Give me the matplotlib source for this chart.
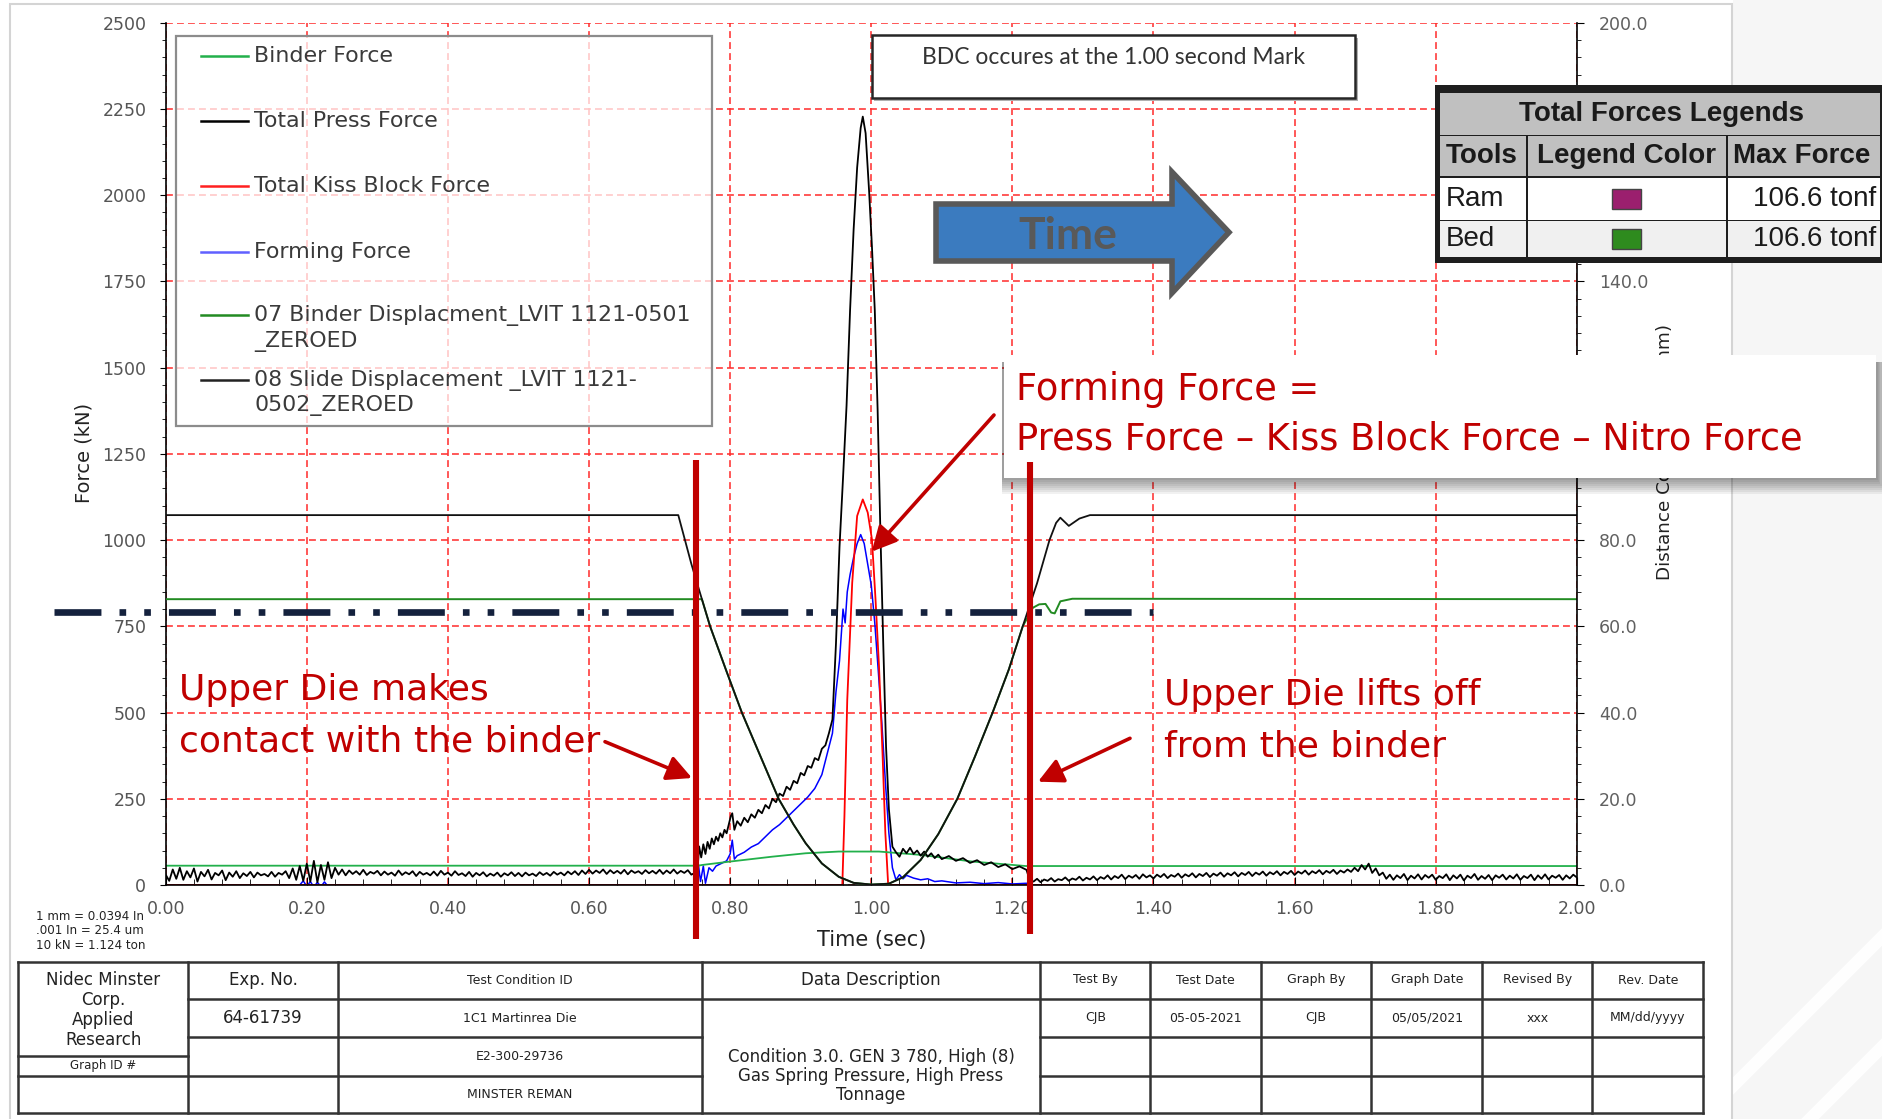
import numpy as np
import matplotlib
matplotlib.use('Agg')
import matplotlib.pyplot as plt
from matplotlib.patches import Rectangle, Polygon, FancyArrowPatch
from matplotlib.lines import Line2D
from matplotlib.ticker import MultipleLocator, FormatStrFormatter, FuncFormatter

plt.rcParams['font.family'] = 'DejaVu Sans'

# ---------------- data ----------------
# Total press force (kN), noisy baseline before contact, one value every 5 ms from 0.000 s
press_early = [30, 12, 45, 18, 50, 15, 40, 22, 48, 10, 38, 25, 44, 16, 35, 28, 42, 14, 36, 24,
               40, 20, 34, 26, 38, 22, 36, 28, 32, 25, 38, 24, 35, 30, 40, 20, 48, 15, 55, 12,
               62, 10, 70, 8, 58, 15, 66, 20, 50, 30, 45, 28, 42, 32, 40, 30, 44, 29, 38, 33,
               41, 28, 39, 30, 36, 27, 42, 29, 37, 31, 40, 26, 38, 30, 35, 28, 39, 27, 41, 30,
               36, 27, 40, 29, 34, 26, 38, 24, 35, 28, 37, 25, 33, 27, 36, 24, 34, 28, 37, 26,
               35, 25, 36, 28, 33, 26, 37, 29, 35, 27, 38, 30, 36, 28, 39, 31, 40, 29, 42, 32,
               44, 33, 42, 35, 45, 32, 43, 34, 41, 33, 44, 31, 42, 35, 40, 32, 43, 34, 41, 33,
               44, 32, 42, 34, 45, 33, 41, 35, 43, 30]
# forming stroke
press_mid_t = [0.750, 0.753, 0.756, 0.759, 0.762, 0.765, 0.768, 0.771, 0.774, 0.777,
               0.780, 0.783, 0.786, 0.789, 0.792, 0.795, 0.798, 0.801, 0.803, 0.806,
               0.810, 0.815, 0.820, 0.825, 0.830, 0.835, 0.840, 0.845, 0.850, 0.855,
               0.860, 0.865, 0.870, 0.875, 0.880, 0.885, 0.890, 0.895, 0.900, 0.905,
               0.910, 0.915, 0.920, 0.925, 0.930, 0.935, 0.940, 0.945,
               0.950, 0.955, 0.960, 0.965, 0.970, 0.975, 0.980, 0.985,
               0.988, 0.992, 0.997, 1.001, 1.005, 1.009, 1.013, 1.017, 1.021, 1.025,
               1.030, 1.035, 1.040, 1.045, 1.050, 1.055, 1.060, 1.065, 1.070, 1.075,
               1.080, 1.085, 1.090, 1.095, 1.100,
               1.110, 1.120, 1.130, 1.140, 1.150, 1.160, 1.170, 1.180, 1.190, 1.200,
               1.210, 1.220, 1.225]
press_mid = [35, 18, 112, 80, 118, 90, 125, 105, 135, 118,
             140, 128, 150, 138, 160, 150, 175, 200, 208, 160,
             185, 172, 195, 182, 205, 195, 218, 208, 232, 222,
             250, 240, 265, 258, 285, 276, 302, 295, 325, 318,
             345, 340, 368, 362, 395, 405, 440, 480,
             700, 980, 1180, 1390, 1667, 1900, 2080, 2195,
             2228, 2180, 2010, 1850, 1667, 1380, 1021, 700, 400, 220,
             111, 95, 82, 105, 92, 108, 90, 100, 85, 97,
             82, 92, 78, 88, 75,
             84, 70, 78, 64, 72, 58, 66, 52, 60, 46,
             54, 44, 12]
# after lift-off, one value every 5 ms from 1.230 s
press_late = [10, 18, 8, 16, 12, 20, 10, 17, 14, 22, 12, 19, 15, 24, 13, 21, 16, 25, 14, 23,
              18, 28, 16, 26, 20, 30, 17, 27, 21, 29, 18, 31, 22, 28, 19, 30, 23, 32, 20, 29,
              24, 33, 21, 31, 25, 34, 22, 32, 26, 35, 23, 33, 27, 36, 24, 34, 28, 37, 25, 35,
              29, 38, 26, 36, 30, 39, 27, 37, 31, 40, 28, 38, 32, 41, 29, 39, 33, 42, 30, 40,
              34, 43, 31, 41, 35, 44, 32, 42, 36, 45, 38, 50, 40, 58, 45, 62, 35, 48, 28, 36,
              18, 30, 15, 28, 20, 32, 14, 27, 19, 31, 16, 29, 21, 30, 15, 26, 20, 31, 14, 28,
              19, 30, 13, 27, 20, 32, 15, 26, 18, 29, 14, 28, 21, 30, 16, 27, 19, 31, 15, 26,
              20, 30, 14, 28, 18, 31, 16, 27, 21, 29, 15, 28, 19, 30, 22]

# Binder force (kN)
binder_t = [0.0, 0.755, 0.760, 0.800, 0.859, 0.907, 0.954, 1.011, 1.072, 1.143, 1.219, 1.230, 2.0]
binder_f = [56, 56, 58, 68, 82, 92, 97, 97, 87, 68, 55, 55, 55]

# Total kiss block force (kN)
kiss_t = [0.0, 0.959, 0.962, 0.966, 0.973, 0.980, 0.988, 0.995, 1.001, 1.006, 1.011, 1.016, 1.020, 1.024, 2.0]
kiss_f = [0, 0, 200, 537, 876, 1070, 1118, 1080, 1002, 830, 634, 380, 150, 0, 0]

# Forming force (kN)
form_t = [0.0, 0.012, 0.015, 0.018, 0.040, 0.043, 0.046,
          0.190, 0.195, 0.200, 0.205, 0.210, 0.215, 0.220, 0.225, 0.230, 0.235,
          0.752, 0.755, 0.758, 0.762, 0.765,
          0.770, 0.775, 0.780, 0.785, 0.790, 0.795, 0.800, 0.803, 0.806, 0.810,
          0.820, 0.830, 0.840, 0.850, 0.860, 0.870, 0.880, 0.890, 0.900, 0.910, 0.920, 0.930, 0.940,
          0.945, 0.950, 0.955, 0.960, 0.963, 0.966,
          0.970, 0.975, 0.980, 0.985, 0.990, 0.995, 1.000, 1.005, 1.010, 1.015, 1.020, 1.025,
          1.030, 1.035, 1.040, 1.045, 1.050,
          1.060, 1.070, 1.080, 1.090, 1.100,
          1.120, 1.140, 1.160, 1.180, 1.200, 1.220, 1.225, 2.0]
form_f = [0, 0, -6, 0, 0, -5, 0,
          0, 12, -4, 10, -6, 8, -5, 9, -4, 0,
          0, 60, 10, 55, 5,
          50, 40, 55, 60, 65, 70, 90, 130, 75, 85,
          95, 110, 120, 140, 160, 175, 195, 215, 235, 255, 280, 320, 400,
          440, 560, 650, 800, 760, 850,
          900, 950, 990, 1016, 990, 930, 870, 760, 620, 470, 300, 150,
          50, 15, 30, 18, 28,
          20, 15, 18, 10, 12,
          6, 8, 4, 7, 3, 5, 0, 0]

# 08 Slide displacement (mm)
slide_t = [0.0, 0.7265, 0.736, 0.745, 0.755, 0.7716, 0.795, 0.8166, 0.840, 0.8687, 0.890,
           0.907, 0.930, 0.954, 0.975, 1.000, 1.025, 1.045, 1.070, 1.095, 1.122, 1.147,
           1.172, 1.195, 1.2147, 1.235, 1.2526, 1.262, 1.268, 1.280, 1.295, 1.310, 2.0]
slide_d = [85.8, 85.8, 80.0, 74.5, 69.0, 60.0, 49.5, 40.0, 31.0, 20.0, 14.0,
           9.7, 5.0, 1.9, 0.5, 0.1, 0.3, 1.8, 5.8, 11.8, 20.0, 29.8,
           40.0, 50.0, 60.0, 70.0, 80.0, 84.0, 85.2, 83.3, 85.0, 85.8, 85.8]

# 07 Binder displacement (mm)
bdisp_t = [0.0, 0.760, 0.7716, 0.795, 0.8166, 0.840, 0.8687, 0.890, 0.907, 0.930, 0.954,
           0.975, 1.000, 1.025, 1.045, 1.070, 1.095, 1.122, 1.147, 1.172, 1.195, 1.2147,
           1.229, 1.238, 1.247, 1.255, 1.260, 1.268, 1.285, 2.0]
bdisp_d = [66.3, 66.3, 60.0, 49.5, 40.0, 31.0, 20.0, 14.0, 9.7, 5.0, 1.9,
           0.5, 0.1, 0.3, 1.8, 5.8, 11.8, 20.0, 29.8, 40.0, 50.0, 60.0,
           64.3, 65.1, 65.2, 63.2, 63.0, 65.8, 66.4, 66.3]

# annotation marks
contact_t = [0.752, 1.2255]          # upper die contact / lift-off (s)
ref_level = 792                        # dash-dot reference level (kN)

legend_labels = ['Binder Force', 'Total Press Force', 'Total Kiss Block Force', 'Forming Force',
                 '07 Binder Displacment_LVIT 1121-0501\n_ZEROED',
                 '08 Slide Displacement _LVIT 1121-\n0502_ZEROED']
legend_colors = ['#22b04b', '#000000', '#ff2020', '#6060ff', '#228b22', '#222222']

tbl_heads = ['Test By', 'Test Date', 'Graph By', 'Graph Date', 'Revised By', 'Rev. Date']
tbl_vals = ['CJB', '05-05-2021', 'CJB', '05/05/2021', 'xxx', 'MM/dd/yyyy']
tools = ['Ram', 'Bed']
tool_colors = ['#9b1f6e', '#2e8b1e']
tool_max = ['106.6 tonf', '106.6 tonf']

# right-axis labels that sit under the overlay boxes in the original
hidden_mm = [100, 120, 160, 180]

press_t = np.concatenate([np.arange(len(press_early)) * 0.005, press_mid_t,
                          1.23 + np.arange(len(press_late)) * 0.005])
press_f = np.concatenate([press_early, press_mid, press_late])

# ---------------- figure ----------------
W, H = 1883, 1119
fig = plt.figure(figsize=(W / 100, H / 100), dpi=100)


def fx(x):
    return x / W


def fy(y):
    return 1 - y / H


def frect(x0, y0, x1, y1, **kw):
    r = Rectangle((fx(x0), fy(y1)), (x1 - x0) / W, (y1 - y0) / H, transform=fig.transFigure, **kw)
    fig.add_artist(r)
    return r


def fline(xs, ys, **kw):
    fig.add_artist(Line2D([fx(v) for v in xs], [fy(v) for v in ys], transform=fig.transFigure, **kw))


def ftext(x, y, s, **kw):
    return fig.text(fx(x), fy(y), s, **kw)


# page background
frect(1733, 0, W, H, facecolor='#f6f6f6', edgecolor='none', zorder=0)
for k in range(5):
    x0 = 1700 + k * 110
    fline([x0, x0 + 700], [H, H - 700], color='white', lw=9, zorder=0.1, alpha=0.9)
frect(10, 4, 1731.7, 1125, facecolor='none', edgecolor='#d4d4d4', lw=1.5, zorder=0.2)

ax = fig.add_axes([165.7 / W, 1 - 885 / H, (1576.8 - 165.7) / W, (885 - 22.8) / H])
ax2 = ax.twinx()

ax.plot(form_t, form_f, color='#0000ff', lw=1.1, zorder=2)
ax.plot(kiss_t, kiss_f, color='#ff0000', lw=1.3, zorder=2.1)
ax.plot(binder_t, binder_f, color='#22b04b', lw=1.3, zorder=2.2)
ax.plot(press_t, press_f, color='black', lw=1.3, zorder=2.3)
ax2.plot(bdisp_t, bdisp_d, color='#228b22', lw=1.4)
ax2.plot(slide_t, slide_d, color='#111111', lw=1.3)

ax.set_xlim(0, 2)
ax.set_ylim(0, 2500)
ax2.set_ylim(0, 200)

ax.xaxis.set_major_locator(MultipleLocator(0.2))
ax.xaxis.set_minor_locator(MultipleLocator(0.04))
ax.xaxis.set_major_formatter(FormatStrFormatter('%.2f'))
ax.yaxis.set_major_locator(MultipleLocator(250))
ax.yaxis.set_minor_locator(MultipleLocator(50))
ax.yaxis.set_major_formatter(FormatStrFormatter('%d'))
ax2.yaxis.set_major_locator(MultipleLocator(20))
ax2.yaxis.set_minor_locator(MultipleLocator(4))
ax2.yaxis.set_major_formatter(FuncFormatter(
    lambda v, p: '' if round(v) in hidden_mm else '%.1f' % v))

ax.grid(True, which='major', color='#ff2a2a', linestyle=(0, (4.5, 2.7)), linewidth=1.1)
ax.tick_params(axis='y', which='major', direction='out', length=4, pad=10,
               labelsize=12.5, labelcolor='#555555')
ax.tick_params(axis='y', which='minor', direction='out', length=3)
ax.tick_params(axis='x', which='major', direction='in', length=6, pad=11,
               labelsize=12.5, labelcolor='#555555')
ax.tick_params(axis='x', which='minor', direction='in', length=4)
ax2.tick_params(axis='y', which='major', direction='out', length=5, pad=11,
                labelsize=12.5, labelcolor='#606060')
ax2.tick_params(axis='y', which='minor', direction='out', length=3)

for s in ['top', 'right']:
    ax.spines[s].set_visible(False)
for s in ['top', 'left', 'bottom']:
    ax2.spines[s].set_visible(False)
ax.spines['left'].set_linewidth(1.2)
ax.spines['bottom'].set_linewidth(1.2)
ax2.spines['right'].set_linewidth(1.2)

ftext(84, 453, 'Force (kN)', rotation=90, ha='center', va='center', fontsize=14, color='#222222')
ftext(872, 940, 'Time (sec)', ha='center', va='center', fontsize=15, color='#222222')
ftext(1665, 452, 'Distance Compressed (mm)', rotation=90, ha='center', va='center',
      fontsize=13.2, color='#222222')

for i, line in enumerate(['1 mm = 0.0394 In', '.001 In = 25.4 um', '10 kN = 1.124 ton']):
    ftext(36, 916 + i * 14.8, line, ha='left', va='center', fontsize=8.6, color='#222222')

# legend box
frect(176, 36, 712, 426, facecolor=(1, 1, 1, 0.72), edgecolor='#8c8c8c', lw=1.6, zorder=3)
row_y = [56, 121, 186, 251.5, 315.5, 380]
for lab, col, yy in zip(legend_labels, legend_colors, row_y):
    fline([201, 248], [yy, yy], color=col, lw=1.8, zorder=4)
    for j, part in enumerate(lab.split('\n')):
        ftext(254.5, yy + j * 25.7, part, ha='left', va='center', fontsize=15.9,
              color='#3a3a3a', zorder=4)

# BDC box
frect(874, 38, 1358, 101, facecolor='#b0b0b0', edgecolor='none', zorder=3)
frect(871.7, 35, 1355, 98.3, facecolor='white', edgecolor='#262626', lw=1.8, zorder=3.1)
ftext(1113, 57.7, 'BDC occures at the 1.00 second Mark', ha='center', va='center',
      fontsize=16.5, color='#333333', family='Lato', zorder=4)

# time arrow
arrow_pts = [(936, 204), (1172, 204), (1172, 172), (1229, 232.3), (1172, 293), (1172, 261), (936, 261)]
fig.add_artist(Polygon([(fx(a), fy(b)) for a, b in arrow_pts], closed=True, transform=fig.transFigure,
                       facecolor='#3b7bbf', edgecolor='#595959', lw=4, joinstyle='miter', zorder=3))
ftext(1068, 236, 'Time', ha='center', va='center', fontsize=32, color='#595959',
      family='Lato', weight='bold', zorder=4)

# total forces legend table
frect(1435, 85, 1895, 263, facecolor='#1e1e1e', edgecolor='none', zorder=5)
frect(1440, 93, 1880, 134.5, facecolor='#c0c0c0', edgecolor='none', zorder=5.1)
col_x = [(1440, 1525.5), (1528, 1726), (1728, 1880)]
rows = [(136.4, 176, '#c0c0c0'), (178, 219.5, 'white'), (221.4, 257, '#f0f0f0')]
for y0, y1, fc in rows:
    for x0, x1 in col_x:
        frect(x0, y0, x1, y1, facecolor=fc, edgecolor='none', zorder=5.1)
tkw = dict(family='Liberation Sans', fontsize=20, color='#1a1a1a', va='center', zorder=6)
ftext(1662, 114, 'Total Forces Legends', ha='center', weight='bold', **tkw)
ftext(1446, 156, 'Tools', ha='left', weight='bold', **tkw)
ftext(1627, 156, 'Legend Color', ha='center', weight='bold', **tkw)
ftext(1733, 156, 'Max Force', ha='left', weight='bold', **tkw)
for i, (tool, tc, mx) in enumerate(zip(tools, tool_colors, tool_max)):
    yc = 199 + i * 40
    ftext(1446, yc, tool, ha='left', **tkw)
    frect(1612, yc - 9.5, 1641, yc + 9.5, facecolor=tc, edgecolor='#444444', lw=1, zorder=6)
    ftext(1752.7, yc, mx, ha='left', **tkw)

# forming force formula box with shadow
for k in range(8):
    frect(1002, 362, 1878 + k * 1.2, 480 + k * 2, facecolor='black', edgecolor='none',
          alpha=0.055, zorder=6)
frect(1004, 355, 1876, 478, facecolor='white', edgecolor='none', zorder=6.1)
red = '#c00000'
ftext(1016, 400, 'Forming Force =', ha='left', va='baseline', fontsize=26.5, color=red, zorder=7)
ftext(1016, 450, 'Press Force \u2013 Kiss Block Force \u2013 Nitro Force', ha='left',
      va='baseline', fontsize=26.5, color=red, zorder=7)

# dash-dot reference line and contact markers (data coordinates)
fig.add_artist(Line2D([-0.158, 1.40], [ref_level, ref_level], transform=ax.transData,
                      color='#14213d', lw=4.8, linestyle=(0, (7.04, 2.71, 1, 2.71, 1, 2.71)),
                      dash_capstyle='butt', zorder=7.5))
for t0, top, bot in zip(contact_t, [1232, 1226], [-157, -142]):
    fig.add_artist(Line2D([t0, t0], [bot, top], transform=ax.transData, color=red, lw=4.4,
                          solid_capstyle='butt', zorder=8))

ftext(179, 700, 'Upper Die makes', ha='left', va='baseline', fontsize=26, color=red, zorder=7)
ftext(179, 751.7, 'contact with the binder', ha='left', va='baseline', fontsize=26, color=red, zorder=7)
ftext(1164, 705, 'Upper Die lifts off', ha='left', va='baseline', fontsize=26, color=red, zorder=7)
ftext(1164, 756.7, 'from the binder', ha='left', va='baseline', fontsize=26, color=red, zorder=7)

for (x0, y0), (x1, y1) in [((605, 741.7), (692, 778)), ((1130, 738.3), (1038, 781.7)),
                           ((994, 415), (871.7, 551.7))]:
    fig.add_artist(FancyArrowPatch((fx(x0), fy(y0)), (fx(x1), fy(y1)), transform=fig.transFigure,
                                   arrowstyle='-|>,head_length=0.75,head_width=0.38',
                                   mutation_scale=20, lw=2.6, color=red, shrinkA=0, shrinkB=0,
                                   zorder=8))

# bottom info table
lk = dict(color='#333333', lw=1.8, zorder=3)
cols = [18, 188.5, 337.5, 702.5, 1040, 1150.5, 1261, 1371.5, 1482, 1592.5, 1703]
top_y, bot_y = 961.7, 1113.3
fline([18, 1703], [top_y, top_y], **lk)
fline([18, 1703], [bot_y, bot_y], **lk)
for c in cols:
    fline([c, c], [top_y, bot_y], **lk)
fline([188.5, 1703], [999, 999], **lk)
fline([188.5, 702.5], [1036.7, 1036.7], **lk)
fline([1040, 1703], [1036.7, 1036.7], **lk)
fline([18, 188.5], [1055.7, 1055.7], **lk)
fline([18, 702.5], [1075.7, 1075.7], **lk)
fline([1040, 1703], [1075.7, 1075.7], **lk)

bk = dict(ha='center', va='center', color='#222222', zorder=4)
ftext(103.3, 1010, 'Nidec Minster\nCorp.\nApplied\nResearch', fontsize=12, linespacing=1.12, **bk)
ftext(103.3, 1065.7, 'Graph ID #', fontsize=8.5, **bk)
ftext(263, 980, 'Exp. No.', fontsize=12, **bk)
ftext(263, 1018, '64-61739', fontsize=12, **bk)
for yy, s in zip([980, 1018, 1057, 1095],
                 ['Test Condition ID', '1C1 Martinrea Die', 'E2-300-29736', 'MINSTER REMAN']):
    ftext(520, yy, s, fontsize=9, **bk)
ftext(871, 980, 'Data Description', fontsize=12, **bk)
ftext(871, 1076, 'Condition 3.0. GEN 3 780, High (8)\nGas Spring Pressure, High Press\nTonnage',
      fontsize=12, linespacing=1.1, **bk)
for i, (hd, vl) in enumerate(zip(tbl_heads, tbl_vals)):
    xc = (cols[4 + i] + cols[5 + i]) / 2
    ftext(xc, 980, hd, fontsize=9, **bk)
    ftext(xc, 1018, vl, fontsize=9, **bk)

fig.savefig('out.png', dpi=100)
